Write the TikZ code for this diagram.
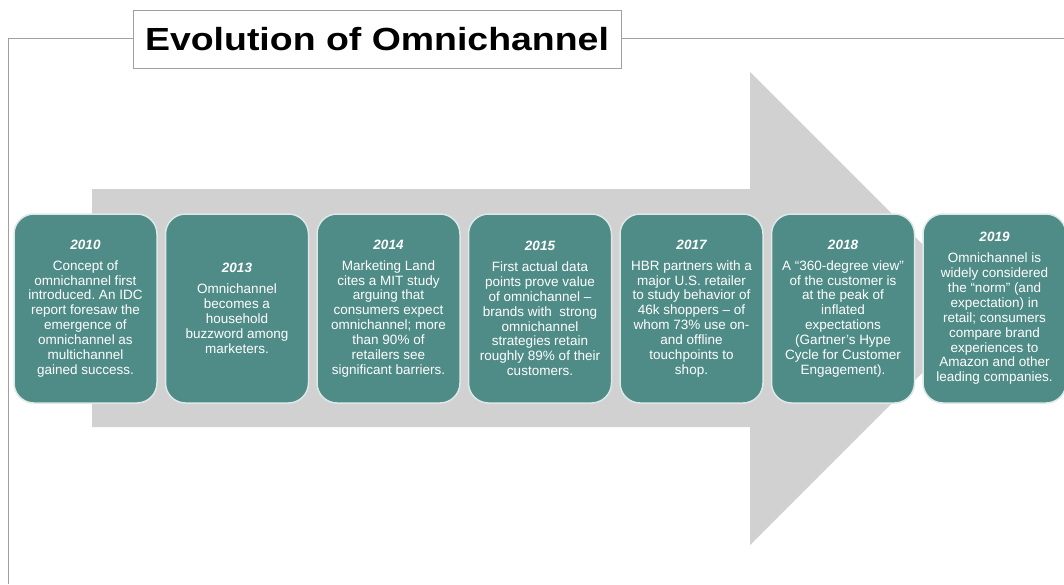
\documentclass[tikz,border=0pt]{standalone}
\usepackage{fontspec}
\setmainfont{Liberation Sans}
\frenchspacing
\definecolor{teal1}{HTML}{4F8C87}
\definecolor{boxedge}{HTML}{DCE9E6}
\definecolor{arrowgray}{HTML}{D1D1D1}
\definecolor{framegray}{HTML}{A0A0A0}
\begin{document}
\begin{tikzpicture}[x=1pt,y=-1pt,
  evbox/.style={draw=boxedge, line width=1.5pt, fill=teal1, rounded corners=20pt,
    minimum width=143pt, minimum height=189pt, inner sep=0pt,
    text=white, align=center, font=\fontsize{13.5}{14.9}\selectfont},
  titlebox/.style={draw=framegray, line width=0.8pt, fill=white, minimum width=488pt,
    minimum height=58pt, inner sep=0pt, font=\fontsize{32}{34}\selectfont\bfseries},
]
\newcommand{\yr}[1]{{\fontsize{13.5}{15}\selectfont\bfseries\itshape #1}\\[6pt]}
\useasboundingbox (0,0) rectangle (1064,584);
\fill[white] (0,0) rectangle (1064,584);
\draw[framegray, line width=1pt] (1064,38) -- (8,38) -- (8,584);
\node[titlebox] (title) at (377,39) {\scalebox{1.17}[1]{Evolution of Omnichannel}};
\fill[arrowgray] (92,189) -- (750,189) -- (750,72) -- (986.5,308.5) -- (750,545) -- (750,427) -- (92,427) -- cycle;
\node[evbox] (b1) at (85.5,308.5) {\yr{2010}Concept of\\omnichannel first\\introduced. An IDC\\report foresaw the\\emergence of\\omnichannel as\\multichannel\\gained success.};
\node[evbox] (b2) at (237,308.5) {\yr{2013}Omnichannel\\becomes a\\household\\buzzword among\\marketers.};
\node[evbox] (b3) at (388.5,308.5) {\yr{2014}Marketing Land\\cites a MIT study\\arguing that\\consumers expect\\omnichannel; more\\than 90\% of\\retailers see\\significant barriers.};
\node[evbox] (b4) at (540,308.5) {\yr{2015}First actual data\\points prove value\\of omnichannel --\\brands with\ \ strong\\omnichannel\\strategies retain\\roughly 89\% of their\\customers.};
\node[evbox] (b5) at (691.5,308.5) {\yr{2017}HBR partners with a\\major U.S. retailer\\to study behavior of\\46k shoppers -- of\\whom 73\% use on-\\and offline\\touchpoints to\\shop.};
\node[evbox] (b6) at (843,308.5) {\yr{2018}A “360-degree view”\\of the customer is\\at the peak of\\inflated\\expectations\\(Gartner’s Hype\\Cycle for Customer\\Engagement).};
\node[evbox] (b7) at (994.5,308.5) {\yr{2019}Omnichannel is\\widely considered\\the “norm” (and\\expectation) in\\retail; consumers\\compare brand\\experiences to\\Amazon and other\\leading companies.};
\end{tikzpicture}
\end{document}
